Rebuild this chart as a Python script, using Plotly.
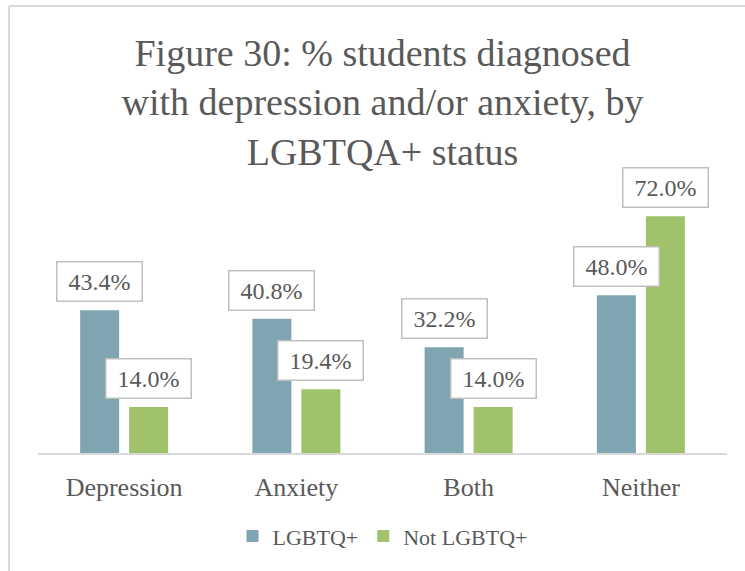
import plotly.graph_objects as go

categories = ["Depression", "Anxiety", "Both", "Neither"]
series_names = ["LGBTQ+", "Not LGBTQ+"]
lgbtq_values = [43.4, 40.8, 32.2, 48.0]
not_lgbtq_values = [14.0, 19.4, 14.0, 72.0]
title_text = "Figure 30: % students diagnosed<br>with depression and/or anxiety, by<br>LGBTQA+ status"

colors = ["#7FA6B0", "#A0C26A"]
text_color = "#595959"
font_family = "Liberation Serif"

fig = go.Figure()
all_values = [lgbtq_values, not_lgbtq_values]
for name, vals, col in zip(series_names, all_values, colors):
    fig.add_trace(go.Bar(x=categories, y=vals, name=name, marker_color=col,
                         marker_line_width=0, hoverinfo="skip"))

annotations = []
for i, vals in enumerate(all_values):
    shift = -24.5 if i == 0 else 24.5
    for cat, v in zip(categories, vals):
        annotations.append(dict(
            x=cat, y=v, xref="x", yref="y", text=f"{v:.1f}%", showarrow=False,
            xshift=shift, yshift=8, yanchor="bottom", xanchor="center",
            font=dict(family=font_family, size=24, color=text_color),
            bgcolor="white", bordercolor="#BFBFBF", borderwidth=1.5, borderpad=2,
            width=80, height=34, align="center", valign="middle"))

shapes = [
    dict(type="line", xref="paper", yref="paper", x0=-0.042, x1=-0.042, y0=-0.6, y1=1.70,
         line=dict(color="#D9D9D9", width=2)),
    dict(type="line", xref="paper", yref="paper", x0=-0.042, x1=1.2, y0=1.70, y1=1.70,
         line=dict(color="#D9D9D9", width=2)),
]

fig.update_layout(
    width=745, height=571,
    margin=dict(l=38, r=18, t=190, b=118),
    paper_bgcolor="white", plot_bgcolor="white",
    barmode="group", bargap=0.431, bargroupgap=0.204,
    title=dict(text=title_text, x=0.5, xref="paper", xanchor="center",
               y=1 - 66 / 571, yref="container", yanchor="top",
               font=dict(family=font_family, size=38, color=text_color)),
    xaxis=dict(showline=True, linecolor="#D9D9D9", linewidth=1.5, ticks="",
               tickfont=dict(family=font_family, size=26, color=text_color),
               ticklabelstandoff=10, showgrid=False, zeroline=False),
    yaxis=dict(range=[0, 80], visible=False, showgrid=False, zeroline=False),
    legend=dict(orientation="h", x=0.5, xanchor="center", xref="paper",
                y=-0.316, yanchor="middle",
                font=dict(family=font_family, size=22, color=text_color),
                itemclick=False, itemdoubleclick=False),
    annotations=annotations,
    shapes=shapes,
    showlegend=True,
)

fig.write_html("out.html", config={"displayModeBar": False},
               post_script="document.body.style.margin='0';")
